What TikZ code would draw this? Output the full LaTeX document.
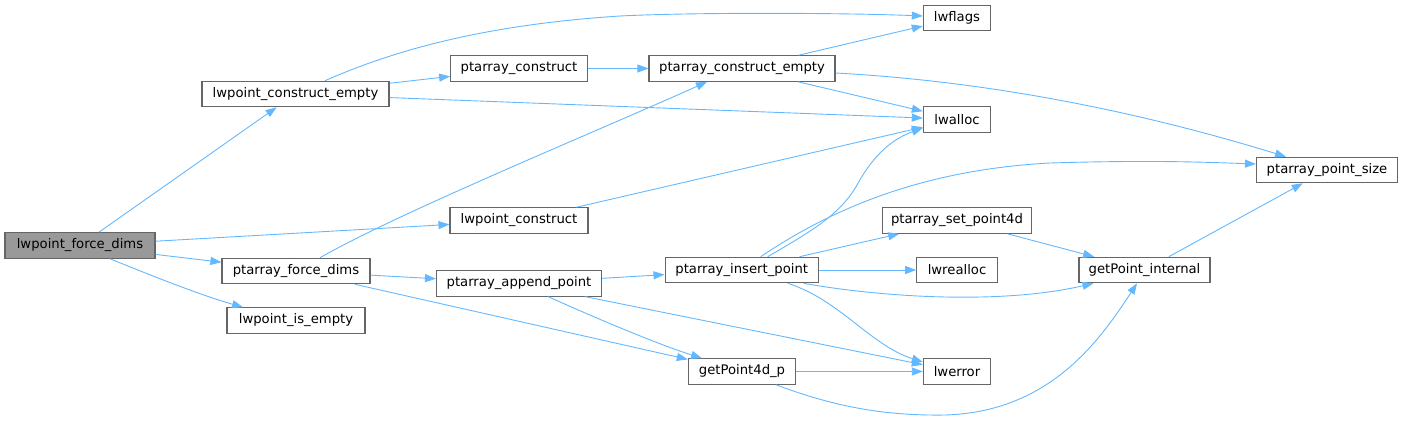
\documentclass[tikz,border=0pt]{standalone}
\usepackage{fontspec}
\setmainfont{DejaVu Sans}
\usepackage{xcolor}
\usepackage{tikz}
\usetikzlibrary{arrows.meta}
\definecolor{edgeblue}{HTML}{63B8FF}
\definecolor{boxgray}{HTML}{666666}
\definecolor{rootgray}{HTML}{999999}

\begin{document}
\begin{tikzpicture}[x=1pt,y=1pt,
	fn/.style={draw=boxgray,line width=1.1pt,fill=white,inner sep=0pt,minimum height=25.5pt,font=\fontsize{13.2}{15}\selectfont},
	call/.style={draw=edgeblue,line width=0.9pt,-{Triangle[length=11pt,width=8pt]}}]
	\useasboundingbox (0,0) rectangle (1412,-421);

	\node[fn,fill=rootgray,minimum width=150pt] (fd) at (80,-245.5) {lwpoint\_force\_dims};
	\node[fn,minimum width=187pt] (lce) at (295.5,-94) {lwpoint\_construct\_empty};
	\node[fn,minimum width=148pt] (pfd) at (296,-271) {ptarray\_force\_dims};
	\node[fn,minimum width=138pt] (lie) at (296,-320.5) {lwpoint\_is\_empty};
	\node[fn,minimum width=136.7pt] (pc) at (519,-68.5) {ptarray\_construct};
	\node[fn,minimum width=186pt] (pce) at (742,-68.5) {ptarray\_construct\_empty};
	\node[fn,minimum width=138pt] (lpc) at (519,-220.5) {lwpoint\_construct};
	\node[fn,minimum width=165pt] (pap) at (519,-283.3) {ptarray\_append\_point};
	\node[fn,minimum width=153.3pt] (ipt) at (741.7,-270) {ptarray\_insert\_point};
	\node[fn,minimum width=107.3pt] (g4d) at (742,-371.5) {getPoint4d\_p};
	\node[fn,minimum width=67.3pt] (flg) at (957,-18) {lwflags};
	\node[fn,minimum width=67.3pt] (alc) at (957,-119.3) {lwalloc};
	\node[fn,minimum width=149.7pt] (pset) at (957,-220.5) {ptarray\_set\_point4d};
	\node[fn,minimum width=80.6pt] (rea) at (957,-270) {lwrealloc};
	\node[fn,minimum width=67.3pt] (err) at (957,-371.5) {lwerror};
	\node[fn,minimum width=131pt] (gpi) at (1144.5,-270) {getPoint\_internal};
	\node[fn,minimum width=141pt] (pps) at (1327,-170) {ptarray\_point\_size};

	\foreach \a/\b in {fd/lce,fd/lpc,fd/pfd,lce/pc,lce/alc,pc/pce,pce/flg,pce/alc,pfd/pap,pfd/g4d,lpc/alc,pap/ipt,pap/err,ipt/pset,ipt/rea,g4d/err,pset/gpi,gpi/pps}{
		\draw[call] (\a) -- (\b);
	}

	\draw[call] ([xshift=30pt]fd.south) .. controls (150,-275) and (200,-295) .. ([xshift=-53pt]lie.north);
	\draw[call] ([xshift=29.5pt]lce.north) .. controls (390,-52) and (480,-25) .. (620,-16) .. controls (700,-12) and (850,-13) .. ([yshift=2pt]flg.west);
	\draw[call] ([xshift=24pt]pfd.north) .. controls (400,-212) and (600,-130) .. ([xshift=-35pt]pce.south);
	\draw[call] ([yshift=-4.5pt]pce.east) .. controls (1000,-82) and (1150,-115) .. ([xshift=-41pt]pps.north);
	\draw[call] ([xshift=29pt]pap.south) .. controls (600,-320) and (660,-345) .. ([xshift=-40pt]g4d.north);
	\draw[call] ([xshift=26pt]ipt.north) .. controls (810,-232) and (840,-215) .. (857,-185) .. controls (875,-152) and (895,-138) .. ([yshift=-8.7pt]alc.west);
	\draw[call] ([xshift=19pt]ipt.north) .. controls (830,-210) and (920,-170) .. (1050,-163) .. controls (1150,-160) and (1200,-162) .. ([yshift=6pt]pps.west);
	\draw[call] ([xshift=62pt]ipt.south) .. controls (880,-297) and (1000,-305) .. ([xshift=-51pt]gpi.south);
	\draw[call] ([xshift=46pt]ipt.south) .. controls (840,-300) and (870,-345) .. ([yshift=9.5pt]err.west);
	\draw[call] ([xshift=34pt]g4d.south) .. controls (830,-405) and (880,-416) .. (945,-415) .. controls (1050,-412) and (1100,-340) .. ([xshift=-7.5pt]gpi.south);
\end{tikzpicture}
\end{document}
